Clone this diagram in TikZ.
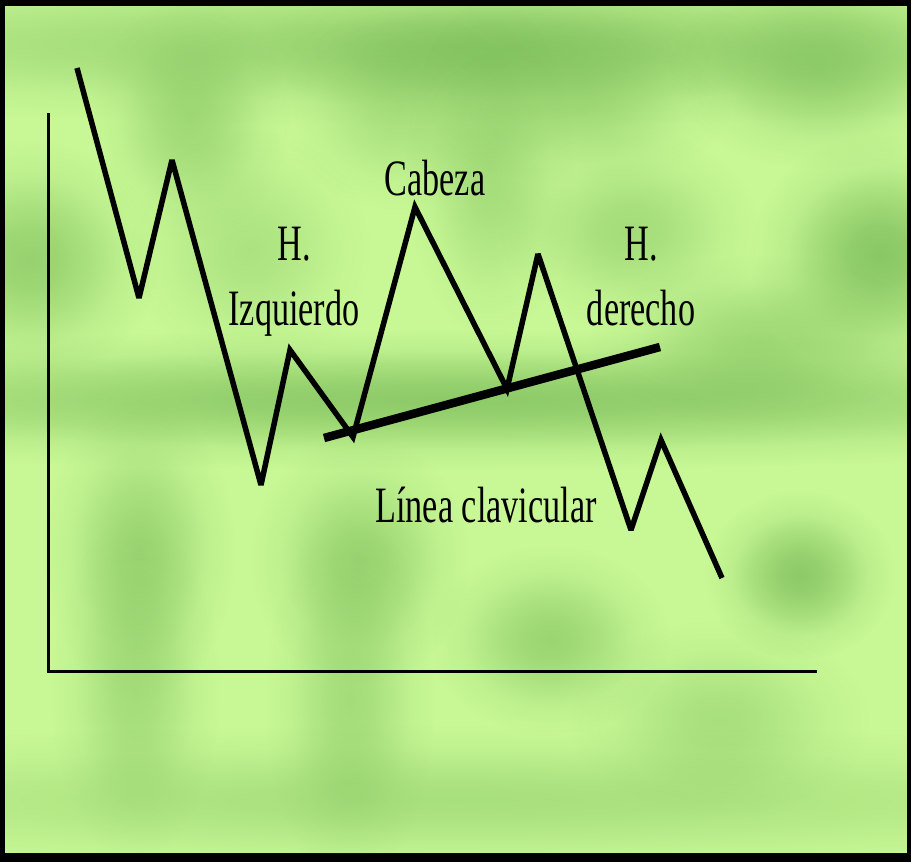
\documentclass[tikz,border=0pt]{standalone}
\usepackage{fontspec}
\setmainfont[FakeStretch=0.67]{Liberation Serif}
\usetikzlibrary{fadings}
\pgfdeclareradialshading{softshade}{\pgfpointorigin}{color(0bp)=(pgftransparent!0); color(6bp)=(pgftransparent!15); color(12bp)=(pgftransparent!45); color(18bp)=(pgftransparent!80); color(25bp)=(pgftransparent!100); color(50bp)=(pgftransparent!100)}
\pgfdeclarefading{softblob}{\pgfuseshading{softshade}}
\definecolor{bgbase}{HTML}{C8F896}
\definecolor{bgdark}{HTML}{6DB34F}
\tikzset{
  blob/.style={fill=bgdark, path fading=softblob, opacity=#1},
  blob/.default=0.6,
  axisline/.style={line width=3pt, black},
  priceline/.style={line width=5.5pt, black, line join=miter, miter limit=3},
  neckline/.style={line width=8.5pt, black},
  lbl/.style={inner sep=0pt, font=\fontsize{51}{65}\selectfont, align=center, text=black},
}
\begin{document}
\begin{tikzpicture}[x=1pt, y=-1pt]
\useasboundingbox (0,0) rectangle (911,862);
% background
\fill[black] (0,0) rectangle (911,862);
\fill[bgbase] (5,6) rectangle (907,853);
\begin{scope}
\clip (5,6) rectangle (907,853);
\fill[blob=0.5] (455,45) ellipse (1000 and 80);
\fill[blob=0.45] (510,50) ellipse (260 and 70);
\fill[blob=0.45] (190,120) ellipse (100 and 120);
\fill[blob=0.35] (400,110) ellipse (120 and 100);
\fill[blob=0.5] (820,70) ellipse (150 and 100);
\fill[blob=0.55] (30,260) ellipse (130 and 120);
\fill[blob=0.7] (880,255) ellipse (130 and 120);
\fill[blob=0.4] (490,170) ellipse (85 and 170);
\fill[blob=0.4] (580,110) ellipse (150 and 75);
\fill[blob=0.4] (630,230) ellipse (130 and 100);
\fill[blob=0.3] (250,250) ellipse (120 and 120);
\fill[blob=0.65] (455,400) ellipse (1000 and 70);
\fill[blob=0.45] (760,340) ellipse (170 and 85);
\fill[blob=0.5] (140,550) ellipse (95 and 150);
\fill[blob=0.4] (135,690) ellipse (85 and 170);
\fill[blob=0.5] (360,560) ellipse (110 and 125);
\fill[blob=0.4] (350,700) ellipse (85 and 185);
\fill[blob=0.5] (550,640) ellipse (120 and 95);
\fill[blob=0.65] (800,575) ellipse (95 and 85);
\fill[blob=0.35] (720,720) ellipse (150 and 100);
\fill[blob=0.35] (455,800) ellipse (950 and 75);
\end{scope}
% axes
\coordinate (ytop) at (48,113);
\coordinate (orig) at (48,671);
\coordinate (xend) at (817,671);
\draw[axisline] (ytop) -- (orig) -- (xend);
% price path
\coordinate (p0) at (77,68);
\coordinate (p1) at (139,298);
\coordinate (p2) at (172,160);
\coordinate (p3) at (261,485);
\coordinate (p4) at (290,350);
\coordinate (p5) at (353,437);
\coordinate (p6) at (415,207);
\coordinate (p7) at (507,389);
\coordinate (p8) at (538,254);
\coordinate (p9) at (631,530);
\coordinate (p10) at (661,440);
\coordinate (p11) at (722,578);
\draw[priceline] (p0) -- (p1) -- (p2) -- (p3) -- (p4) -- (p5) -- (p6) -- (p7) -- (p8) -- (p9) -- (p10) -- (p11);
% neckline
\coordinate (n0) at (324,438);
\coordinate (n1) at (660,347);
\draw[neckline] (n0) -- (n1);
% labels
\node[lbl, anchor=base] (cab) at (435,195) {Cabeza};
\node[lbl, anchor=north] (hi) at (294,227) {H.\\Izquierdo};
\node[lbl, anchor=north] (hd) at (641,227) {H.\\derecho};
\node[lbl, anchor=base] (lc) at (486,522) {Línea clavicular};
\end{tikzpicture}
\end{document}
